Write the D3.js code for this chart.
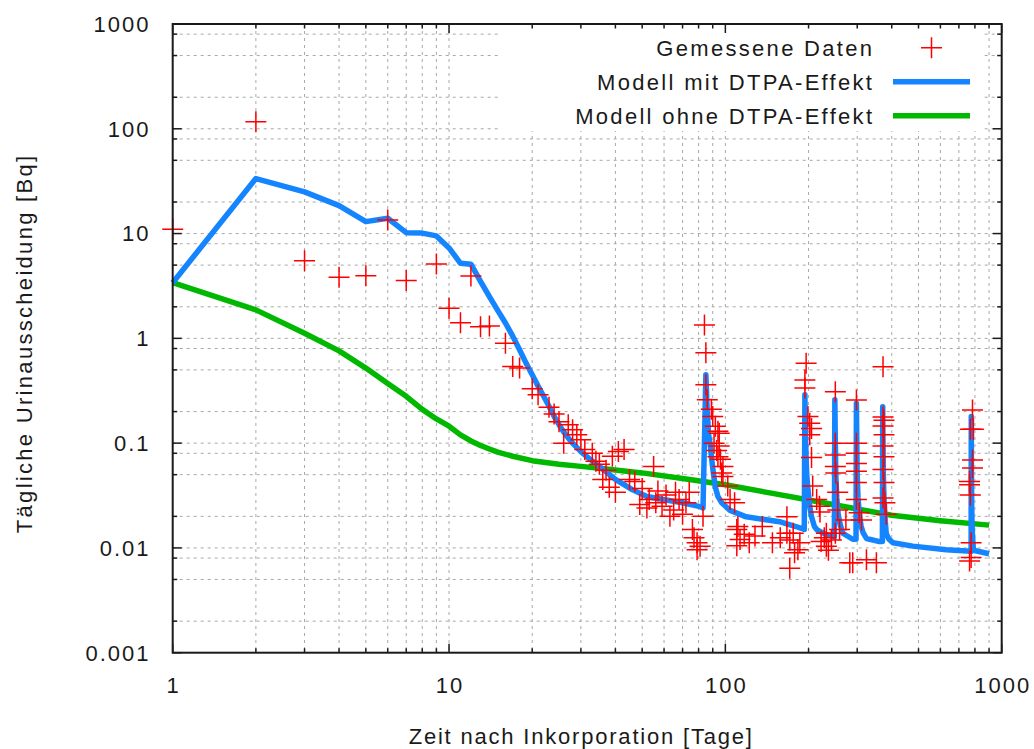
<!DOCTYPE html>
<html>
<head>
<meta charset="utf-8">
<script src="https://cdn.jsdelivr.net/npm/d3@7"></script>
<style>
  html, body { margin: 0; padding: 0; background: #fff; }
  svg text { font-family: "Liberation Sans", Arial, sans-serif; fill: #1a1a1a; }
</style>
</head>
<body>
<svg id="chart" width="1034" height="749"></svg>
<script>
// ---- axis ticks ----
const xTickValues = [1, 10, 100, 1000];
const xTickLabels = ["1", "10", "100", "1000"];
const yTickValues = [0.001, 0.01, 0.1, 1, 10, 100, 1000];
const yTickLabels = ["0.001", "0.01", "0.1", "1", "10", "100", "1000"];
const xMinorFactors = [2, 3, 4, 5, 6, 7, 8, 9];
const yMinorFactors = [2, 5, 8];

const xTitle = "Zeit nach Inkorporation [Tage]";
const yTitle = "Tägliche Urinausscheidung [Bq]";
const seriesNames = ["Gemessene Daten", "Modell mit DTPA-Effekt", "Modell ohne DTPA-Effekt"];

// ---- measured daily urine excretion ----
const measuredDays = [
  1, 2, 3, 4, 5, 6, 7, 9, 10, 11, 12, 13, 14,
  16, 17, 18, 20, 21, 23, 24, 25, 26, 27, 28, 29, 30, 31, 33, 34, 35, 36, 37, 38, 39, 40, 41, 43,
  45, 47, 49, 50, 52, 53, 55, 56, 57, 59, 61, 63, 65, 66, 68, 70, 72, 74, 76, 77, 79, 79, 81, 83,
  84, 85, 85, 86, 89, 90, 91, 92, 93, 94, 95, 95, 94, 96, 98, 97, 98, 102, 104, 108, 110, 111, 113, 110,
  117, 122, 128, 136, 148, 158, 167, 167, 171, 171, 176, 178, 183, 186,
  196, 194, 194, 199, 202, 205, 202, 205, 207, 214, 219, 220, 222, 228, 232, 232, 236, 242,
  250, 250, 250, 250, 251, 255, 255, 259, 250, 273, 282,
  298, 298, 298, 298, 298, 298, 298, 305, 311, 289, 324, 352,
  372, 372, 375, 372, 375, 372, 375, 372, 375, 372, 378, 382,
  784, 770, 790, 784, 784, 765, 765, 770, 775, 775, 765
];
const measuredValues = [
  11.0, 117, 5.5, 3.83, 3.96, 13.5, 3.56, 5.13, 1.94, 1.41, 3.94, 1.29, 1.31,
  0.90, 0.54, 0.52, 0.33, 0.29, 0.22, 0.19, 0.16, 0.10, 0.15, 0.134, 0.12, 0.108, 0.087, 0.080, 0.067, 0.063, 0.045, 0.055, 0.038, 0.075, 0.034, 0.083, 0.087,
  0.045, 0.043, 0.026, 0.037, 0.024, 0.029, 0.060, 0.027, 0.035, 0.025, 0.032, 0.020, 0.023, 0.034, 0.029, 0.021, 0.027, 0.034, 0.015, 0.0125, 0.0112, 0.0096, 0.0104, 0.020,
  1.34, 0.73, 0.36, 0.26, 0.21, 0.18, 0.10, 0.145, 0.085, 0.13, 0.124, 0.094, 0.074, 0.07, 0.060, 0.052, 0.048, 0.039, 0.029, 0.027, 0.015, 0.016, 0.012, 0.0105,
  0.0135, 0.0112, 0.013, 0.016, 0.0112, 0.0125, 0.0198, 0.0138, 0.0119, 0.0064, 0.0138, 0.009, 0.0096, 0.0112,
  0.58, 0.40, 0.336, 0.18, 0.155, 0.138, 0.12, 0.073, 0.039, 0.029, 0.025, 0.022, 0.0115, 0.0125, 0.0138, 0.0104, 0.0095, 0.0119,
  0.31, 0.10, 0.077, 0.060, 0.052, 0.034, 0.023, 0.015, 0.0138, 0.0185, 0.0072,
  0.258, 0.10, 0.080, 0.064, 0.054, 0.042, 0.029, 0.0216, 0.0185, 0.0072, 0.0077, 0.0072,
  0.537, 0.178, 0.165, 0.146, 0.12, 0.094, 0.074, 0.056, 0.042, 0.030, 0.027, 0.021,
  0.207, 0.136, 0.136, 0.069, 0.058, 0.043, 0.040, 0.032, 0.0112, 0.0081, 0.0075
];

// ---- biokinetic model including the DTPA effect ----
const dtpaDays = [
  1, 2, 3, 4, 5, 6, 7, 8, 9, 10, 11, 12, 13, 14, 15, 16, 17, 18, 19, 20,
  21, 22, 23, 24, 25, 26, 27, 28, 30, 32, 35, 40, 46, 52, 61, 70, 81, 83,
  84, 85, 86, 87, 88, 89, 90, 91, 92, 94, 97, 104, 119, 157, 180, 193,
  194, 195, 196, 197, 199, 202, 205, 210, 215, 232, 247, 248,
  249, 250, 251, 253, 256, 260, 266, 289, 297,
  298, 299, 300, 302, 306, 310, 315, 324, 361, 370,
  371, 372, 373, 375, 379, 382, 390, 404, 477, 630, 775,
  776, 777, 779, 782, 790, 867, 900
];
const dtpaValues = [
  3.4, 33.5, 25, 18.5, 13, 14, 10.2, 10.1, 9.5, 7.3, 5.2, 5.1, 3.5, 2.5, 1.85, 1.4, 1.05, 0.78, 0.58, 0.45,
  0.35, 0.28, 0.225, 0.18, 0.15, 0.128, 0.112, 0.1, 0.083, 0.072, 0.06, 0.045, 0.036, 0.031, 0.0287, 0.027, 0.0248, 0.024,
  0.103, 0.45, 0.2, 0.12, 0.1, 0.075, 0.058, 0.046, 0.038, 0.031, 0.027, 0.0228, 0.0198, 0.0178, 0.016, 0.015,
  0.29, 0.12, 0.07, 0.05, 0.036, 0.025, 0.0198, 0.016, 0.0148, 0.0134, 0.0128, 0.0128,
  0.26, 0.1, 0.05, 0.03, 0.021, 0.017, 0.0138, 0.0121, 0.0121,
  0.24, 0.1, 0.05, 0.03, 0.02, 0.0161, 0.014, 0.0123, 0.0115, 0.0115,
  0.223, 0.1, 0.05, 0.03, 0.018, 0.0138, 0.0122, 0.0112, 0.0104, 0.0096, 0.0093,
  0.18, 0.06, 0.025, 0.015, 0.0095, 0.009, 0.0088
];

// ---- model without the DTPA effect ----
const noDtpaDays = [1, 2, 3, 4, 5, 6, 7, 8, 9, 10, 11, 12, 13, 14, 15, 17, 20, 25, 30, 35, 50, 70, 100, 150, 200, 300, 400, 600, 900];
const noDtpaValues = [3.4, 1.87, 1.12, 0.76, 0.52, 0.37, 0.28, 0.21, 0.17, 0.145, 0.12, 0.105, 0.095, 0.088, 0.082, 0.075, 0.068, 0.063, 0.06, 0.0575, 0.052, 0.046, 0.04, 0.033, 0.0287, 0.0235, 0.0205, 0.0182, 0.0165];

// ---- layout ----
const plot = { left: 172.7, right: 1001.7, top: 24, bottom: 652.7 };
const FONT = 22, LS = 2, KEY_LS = 2.3;
const colors = { measured: "#ff0000", dtpa: "#1585ff", noDtpa: "#00b800", grid: "#a8a8a8", axis: "#1a1a1a" };

const svg = d3.select("#chart");
const x = d3.scaleLog().domain([1, 1000]).range([plot.left, plot.right]);
const y = d3.scaleLog().domain([0.001, 1000]).range([plot.bottom, plot.top]);

// tick positions: decades plus minor subdivisions
const xMinor = [], yMinor = [];
for (let d = 1; d < 1000; d *= 10) xMinorFactors.forEach(f => xMinor.push(d * f));
for (let d = 0.001; d < 999; d *= 10) yMinorFactors.forEach(f => yMinor.push(+(d * f).toPrecision(3)));

// ---- grid ----
const grid = svg.append("g").attr("stroke", colors.grid).attr("stroke-width", 1)
  .attr("stroke-dasharray", "3,4").attr("fill", "none");
xMinor.concat(xTickValues.slice(1, -1)).forEach(v => {
  grid.append("line").attr("x1", x(v)).attr("x2", x(v)).attr("y1", plot.top).attr("y2", plot.bottom);
});
yMinor.concat(yTickValues.slice(1, -1)).forEach(v => {
  grid.append("line").attr("x1", plot.left).attr("x2", plot.right).attr("y1", y(v)).attr("y2", y(v));
});

// opaque key area
const key = { x0: 498, x1: 983, y0: plot.top + 1, y1: 131 };
svg.append("rect").attr("x", key.x0).attr("y", key.y0)
  .attr("width", key.x1 - key.x0).attr("height", key.y1 - key.y0).attr("fill", "#fff");

// ---- model curves ----
const line = d3.line().x(d => x(d[0])).y(d => y(d[1]));
const noDtpa = noDtpaDays.map((d, i) => [d, noDtpaValues[i]]);
const dtpa = dtpaDays.map((d, i) => [d, dtpaValues[i]]);

svg.append("path").datum(noDtpa).attr("d", line).attr("fill", "none")
  .attr("stroke", colors.noDtpa).attr("stroke-width", 5.5).attr("stroke-linejoin", "round");
svg.append("path").datum(dtpa).attr("d", line).attr("fill", "none")
  .attr("stroke", colors.dtpa).attr("stroke-width", 5.5).attr("stroke-linejoin", "round");

// ---- measured points as plus markers ----
const half = 10.5;
function plusPath(cx, cy) {
  return `M${cx - half},${cy}H${cx + half}M${cx},${cy - half}V${cy + half}`;
}
const measured = measuredDays.map((d, i) => [d, measuredValues[i]]);
svg.append("g").selectAll("path").data(measured).join("path")
  .attr("d", d => plusPath(x(d[0]), y(d[1])))
  .attr("stroke", colors.measured).attr("stroke-width", 1.5).attr("fill", "none");

// ---- border and ticks (mirrored on all sides) ----
const axes = svg.append("g").attr("stroke", colors.axis).attr("fill", "none");
const majorLen = 9, minorLen = 4.5;
xTickValues.concat(xMinor).forEach(v => {
  const len = xTickValues.includes(v) ? majorLen : minorLen;
  axes.append("line").attr("x1", x(v)).attr("x2", x(v)).attr("y1", plot.bottom).attr("y2", plot.bottom - len).attr("stroke-width", 1.5);
  axes.append("line").attr("x1", x(v)).attr("x2", x(v)).attr("y1", plot.top).attr("y2", plot.top + len).attr("stroke-width", 1.5);
});
yTickValues.concat(yMinor).forEach(v => {
  const len = yTickValues.includes(v) ? majorLen : minorLen;
  axes.append("line").attr("y1", y(v)).attr("y2", y(v)).attr("x1", plot.left).attr("x2", plot.left + len).attr("stroke-width", 1.5);
  axes.append("line").attr("y1", y(v)).attr("y2", y(v)).attr("x1", plot.right).attr("x2", plot.right - len).attr("stroke-width", 1.5);
});
axes.append("rect").attr("x", plot.left).attr("y", plot.top)
  .attr("width", plot.right - plot.left).attr("height", plot.bottom - plot.top).attr("stroke-width", 2);

// ---- tick labels ----
svg.append("g").selectAll("text").data(yTickValues).join("text")
  .attr("x", 148.5 + LS).attr("y", d => y(d)).attr("dy", "0.36em")
  .attr("text-anchor", "end").style("font-size", FONT + "px").style("letter-spacing", LS + "px")
  .text((d, i) => yTickLabels[i]);
svg.append("g").selectAll("text").data(xTickValues).join("text")
  .attr("x", d => x(d) + LS / 2).attr("y", 685).attr("dy", "0.36em")
  .attr("text-anchor", "middle").style("font-size", FONT + "px").style("letter-spacing", LS + "px")
  .text((d, i) => xTickLabels[i]);

// ---- axis titles ----
svg.append("text").attr("x", (plot.left + plot.right) / 2 - 6).attr("y", 736).attr("dy", "0.36em")
  .attr("text-anchor", "middle").style("font-size", FONT + "px").style("letter-spacing", "1.8px")
  .text(xTitle);
svg.append("text").attr("transform", `translate(31.5, ${(plot.top + plot.bottom) / 2 + 5}) rotate(-90)`)
  .attr("text-anchor", "middle").style("font-size", FONT + "px").style("letter-spacing", "2.3px")
  .text(yTitle);

// ---- key ----
const keyRows = [47.7, 81.7, 115.8];
const keyTextX = 872 + KEY_LS, keyLine = [893, 970];
seriesNames.forEach((name, i) => {
  svg.append("text").attr("x", keyTextX).attr("y", keyRows[i]).attr("dy", "0.36em")
    .attr("text-anchor", "end").style("font-size", FONT + "px").style("letter-spacing", KEY_LS + "px")
    .text(name);
});
svg.append("path").attr("d", plusPath((keyLine[0] + keyLine[1]) / 2, keyRows[0]))
  .attr("stroke", colors.measured).attr("stroke-width", 1.5).attr("fill", "none");
svg.append("line").attr("x1", keyLine[0]).attr("x2", keyLine[1]).attr("y1", keyRows[1]).attr("y2", keyRows[1])
  .attr("stroke", colors.dtpa).attr("stroke-width", 5.5);
svg.append("line").attr("x1", keyLine[0]).attr("x2", keyLine[1]).attr("y1", keyRows[2]).attr("y2", keyRows[2])
  .attr("stroke", colors.noDtpa).attr("stroke-width", 5.5);
</script>
</body>
</html>
